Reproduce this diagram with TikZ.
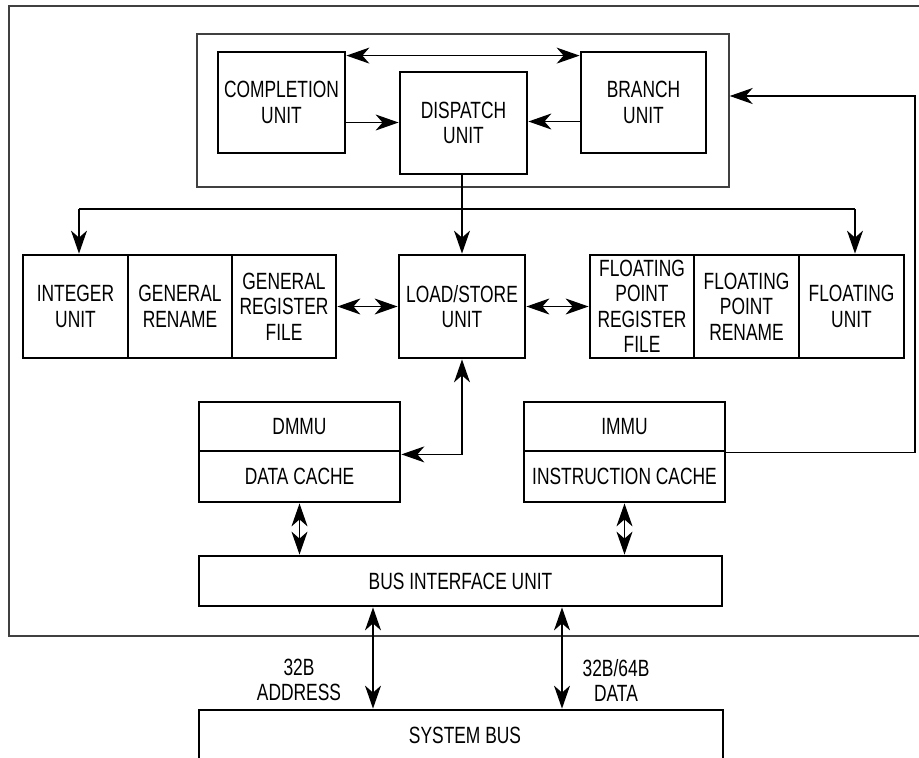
\documentclass[tikz,border=0pt]{standalone}
\usepackage{fontspec}
\setmainfont[FakeStretch=0.74]{Liberation Sans}
\usetikzlibrary{arrows.meta,calc}
\tikzset{
  unitbox/.style={draw=black, line width=2.8pt, rectangle, inner sep=0pt, align=center,
    font=\fontsize{23.5}{25.5}\selectfont},
  plainlabel/.style={inner sep=0pt, align=center, font=\fontsize{23.5}{25}\selectfont},
  frameline/.style={draw=black!75, line width=1.4pt},
  conn/.style={draw=black, line width=1.3pt},
  tip/.style={-{Stealth[length=23pt,width=16pt,inset=7pt]}},
  dtip/.style={{Stealth[length=23pt,width=16pt,inset=7pt]}-{Stealth[length=23pt,width=16pt,inset=7pt]}}
}
\newcommand{\ubox}[6]{%
  \node[unitbox, minimum width={(#4-#2)*1pt}, minimum height={(#5-#3)*1pt}]
    (#1) at ({(#2+#4)/2},{(#3+#5)/2}) {#6};}
\begin{document}
\begin{tikzpicture}[x=1pt,y=-1pt]
\clip (0,0) rectangle (919,758);
\fill[white] (0,0) rectangle (919,758);
% outer frame (right side beyond the picture)
\draw[frameline] (930,6) -- (9,6) -- (9,636) -- (930,636);
% inner frame
\node[frameline, rectangle, minimum width=532pt, minimum height=153pt, inner sep=0pt] (ctrl) at (463,110.5) {};
% control units
\ubox{comp}{218}{52}{345}{153}{COMPLETION\\UNIT}
\ubox{disp}{400}{72}{527}{174}{DISPATCH\\UNIT}
\ubox{branch}{581}{52}{706}{153}{BRANCH\\UNIT}
% execution row
\ubox{int}{23}{255}{128}{358}{INTEGER\\UNIT}
\ubox{gren}{128}{255}{232}{358}{GENERAL\\RENAME}
\ubox{grf}{232}{255}{336}{358}{GENERAL\\REGISTER\\FILE}
\ubox{ls}{399}{255}{525}{358}{LOAD/STORE\\UNIT}
\ubox{fprf}{590}{255}{694}{358}{FLOATING\\POINT\\REGISTER\\FILE}
\ubox{fpren}{694}{255}{799}{358}{FLOATING\\POINT\\RENAME}
\ubox{fu}{799}{255}{904}{358}{FLOATING\\UNIT}
% memory units
\ubox{dmmu}{199}{402}{400}{451}{DMMU}
\ubox{dc}{199}{451}{400}{502}{DATA CACHE}
\ubox{immu}{524}{402}{725}{451}{IMMU}
\ubox{ic}{524}{451}{725}{502}{INSTRUCTION CACHE}
\ubox{biu}{199}{556}{722}{606}{BUS INTERFACE UNIT}
\node[unitbox, minimum width=524pt, minimum height=80pt] (sb) at (461,750) {};
\node[plainlabel] (sbt) at (465,735) {SYSTEM BUS};
% labels
\node[plainlabel] (addr) at (299,680) {32B\\ADDRESS};
\node[plainlabel] (data) at (616,680) {32B/64B\\DATA};
% connectors in control block
\draw[conn,dtip] ([yshift=-5pt]comp.north east) -- ([yshift=-5pt]comp.north east -| branch.west);
\draw[conn,tip] ([yshift=-20pt]comp.east) -- ([yshift=-20pt]comp.east -| disp.west);
\draw[conn,tip] ([yshift=-19pt]branch.west) -- ([yshift=-19pt]branch.west -| disp.east);
% dispatch distribution
\coordinate (jl) at (79,209);
\coordinate (jr) at (855,209);
\draw[conn] (jl) -- (jr);
\draw[conn,tip] (jl) -- (jl |- int.north);
\draw[conn,tip] (jr) -- (jr |- fu.north);
\draw[conn,tip] (disp.south -| ls.north) -- (ls.north);
% register file links
\draw[conn,dtip] (grf.east) -- (ls.west);
\draw[conn,dtip] (ls.east) -- (fprf.west);
% load/store to data mmu
\draw[conn,dtip] (ls.south) |- ([yshift=-2pt]dmmu.south east);
% instruction cache feedback to branch
\coordinate (fbk) at (915,96);
\draw[conn,tip] (immu.south east) -| (fbk) -- (fbk -| ctrl.east);
% caches to bus interface
\draw[conn,dtip] (dc.south) -- (dc.south |- biu.north);
\draw[conn,dtip] (ic.south) -- (ic.south |- biu.north);
% bus interface to system bus
\draw[conn,dtip] ([xshift=-87.5pt]biu.south) -- ([xshift=-87.5pt]biu.south |- sb.north);
\draw[conn,dtip] ([xshift=101.5pt]biu.south) -- ([xshift=101.5pt]biu.south |- sb.north);
\end{tikzpicture}
\end{document}
